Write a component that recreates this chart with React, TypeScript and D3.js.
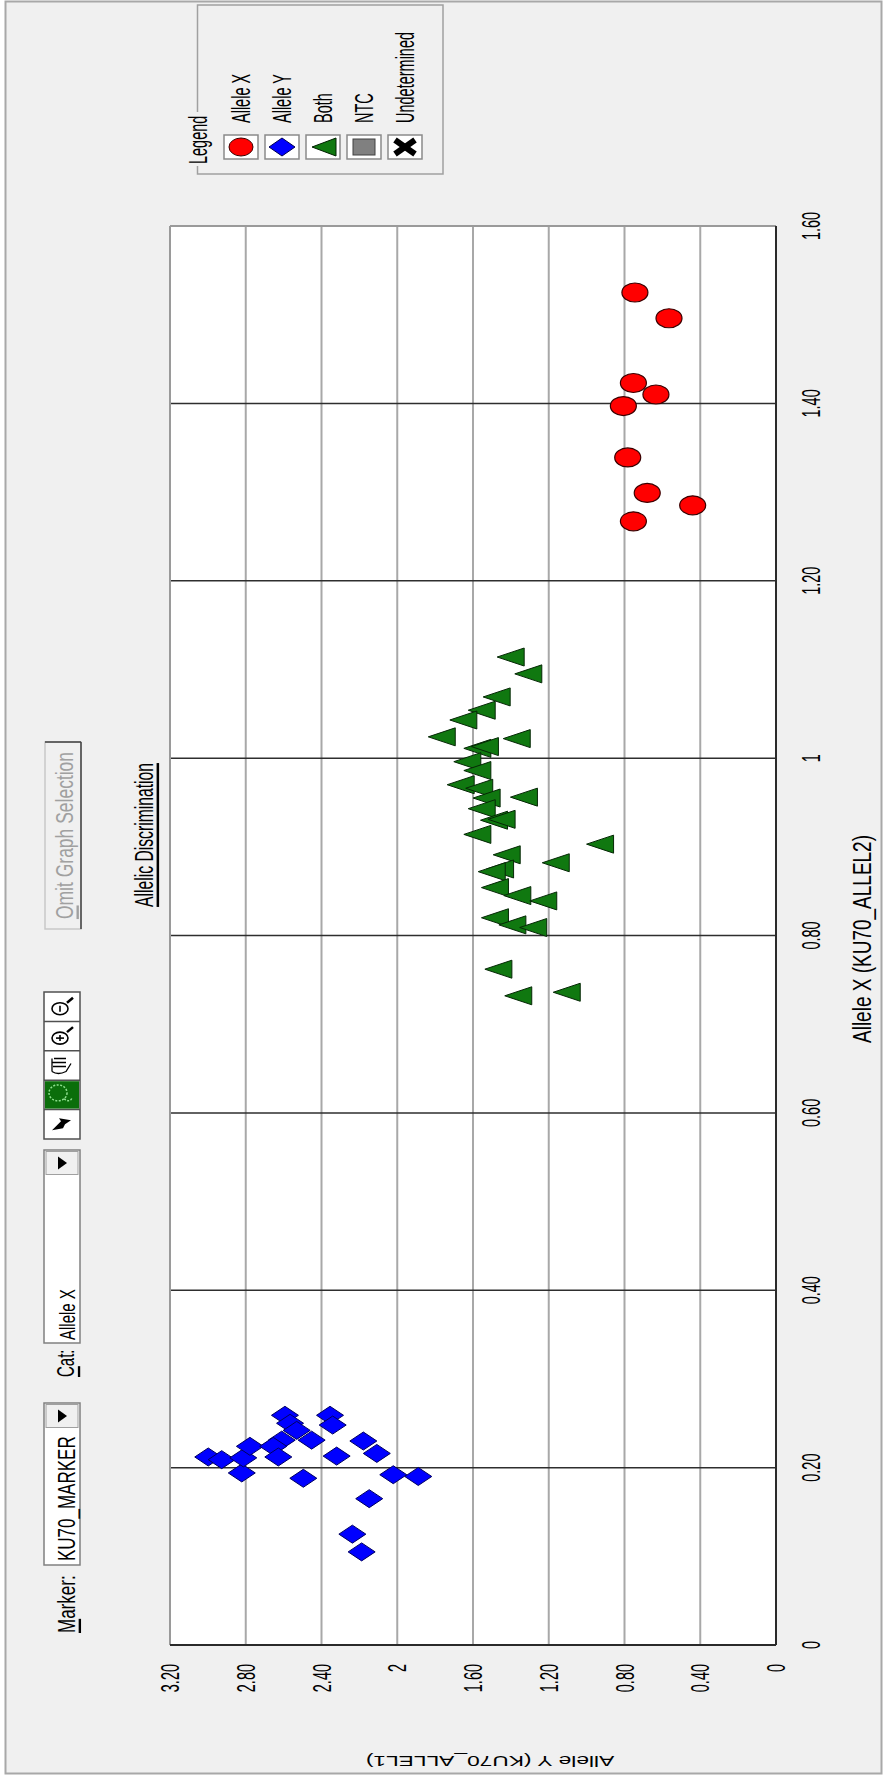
import React from 'react';
import * as d3 from 'd3';

const W = 885;
const H = 1776;

// [Allele X (KU70_ALLEL2), Allele Y (KU70_ALLEL1)]
const alleleXCalls: [number, number][] = [
  [1.525, 0.745], [1.496, 0.565], [1.423, 0.753], [1.41, 0.634], [1.397, 0.806],
  [1.339, 0.783], [1.299, 0.68], [1.285, 0.44], [1.267, 0.753],
];

const alleleYCalls: [number, number][] = [
  [0.212, 2.998], [0.209, 2.927], [0.194, 2.821], [0.211, 2.813], [0.224, 2.778],
  [0.259, 2.593], [0.25, 2.566], [0.242, 2.531], [0.231, 2.61], [0.224, 2.655],
  [0.212, 2.628], [0.231, 2.452], [0.188, 2.496], [0.259, 2.355], [0.248, 2.341],
  [0.213, 2.32], [0.23, 2.179], [0.216, 2.108], [0.192, 2.021], [0.19, 1.889],
  [0.165, 2.148], [0.125, 2.237], [0.105, 2.188],
];

const bothCalls: [number, number][] = [
  [1.114, 1.401], [1.095, 1.308], [1.069, 1.475], [1.054, 1.554], [1.043, 1.651],
  [1.024, 1.765], [1.022, 1.369], [1.011, 1.577], [1.013, 1.537], [0.996, 1.63],
  [0.986, 1.577], [0.97, 1.665], [0.966, 1.567], [0.955, 1.528], [0.956, 1.331],
  [0.943, 1.554], [0.93, 1.489], [0.931, 1.449], [0.914, 1.577], [0.903, 0.929],
  [0.891, 1.422], [0.882, 1.163], [0.875, 1.457], [0.872, 1.501], [0.854, 1.484],
  [0.845, 1.366], [0.839, 1.229], [0.82, 1.484], [0.812, 1.392], [0.809, 1.282],
  [0.762, 1.466], [0.732, 1.361], [0.736, 1.105],
];

const xTicks = [0, 0.2, 0.4, 0.6, 0.8, 1, 1.2, 1.4, 1.6];
const xTickLabels = ['0', '0.20', '0.40', '0.60', '0.80', '1', '1.20', '1.40', '1.60'];
const yTicks = [0, 0.4, 0.8, 1.2, 1.6, 2, 2.4, 2.8, 3.2];
const yTickLabels = ['0', '0.40', '0.80', '1.20', '1.60', '2', '2.40', '2.80', '3.20'];

const legendLabels = ['Allele X', 'Allele Y', 'Both', 'NTC', 'Undetermined'];

const FONT = '"Liberation Sans", Arial, "DejaVu Sans", sans-serif';
const K = 1.75;

// plot frame (screen coords): Allele Y runs along screen x, Allele X along screen y
const PL = 170, PR = 776, PT = 226, PB = 1645;
const xScale = d3.scaleLinear().domain([0, 1.6]).range([PB, PT]);
const yScale = d3.scaleLinear().domain([0, 3.2]).range([PR, PL]);

type VTProps = {
  x: number; y: number; children: React.ReactNode; anchor?: string; size?: number;
  fill?: string; k?: number; deco?: string;
};
function VText({ x, y, children, anchor = 'middle', size = 14.5, fill = '#000', k = K, deco }: VTProps) {
  return (
    <text
      transform={`translate(${x},${y}) rotate(-90) scale(1,${k})`}
      textAnchor={anchor}
      dominantBaseline="central"
      fontSize={size}
      fontFamily={FONT}
      fill={fill}
      style={deco ? { textDecoration: deco } : undefined}
    >
      {children}
    </text>
  );
}

function triPath(cx: number, cy: number, w = 27, h = 18) {
  const p = d3.path();
  p.moveTo(cx - w / 2, cy);
  p.lineTo(cx + w / 2, cy - h / 2);
  p.lineTo(cx + w / 2, cy + h / 2);
  p.closePath();
  return p.toString();
}
function diamondPath(cx: number, cy: number, w = 27, h = 18) {
  const p = d3.path();
  p.moveTo(cx - w / 2, cy);
  p.lineTo(cx, cy - h / 2);
  p.lineTo(cx + w / 2, cy);
  p.lineTo(cx, cy + h / 2);
  p.closePath();
  return p.toString();
}

const RED = '#ff0000';
const BLUE = '#0000ff';
const GREEN = '#107810';

export default function App() {
  // legend geometry
  const lgL = 197.5, lgR = 443, lgT = 5, lgB = 174;
  const rowX = legendLabels.map((_, i) => 241 + i * 41);
  const mkY = 147;

  // toolbar geometry
  const TX0 = 44, TX1 = 80; // toolbar column
  const TC = (TX0 + TX1) / 2;
  const btnY0 = 992;
  const btnH = 29.4;
  const bc = (i: number) => btnY0 + btnH * i + btnH / 2;
  const catY0 = 1150, catY1 = 1343;
  const mkrY0 = 1403, mkrY1 = 1565;

  return (
    <svg width={W} height={H} style={{ position: 'absolute', left: 0, top: 0, display: 'block' }}>
      <rect x={0} y={0} width={W} height={H} fill="#ffffff" />
      <rect x={5.5} y={1.5} width={876} height={1772} fill="#f0f0f0" stroke="#a8a8a8" strokeWidth={2} />

      {/* Legend group box */}
      <g>
        <path
          d={`M${lgL},${lgB} L${lgR},${lgB} L${lgR},${lgT} L${lgL},${lgT} Z`}
          fill="none" stroke="#a0a0a0" strokeWidth={1.5}
        />
        <rect x={lgL - 10} y={112} width={20} height={54} fill="#f0f0f0" />
        <VText x={lgL} y={164} anchor="start">Legend</VText>
        {legendLabels.map((lab, i) => (
          <g key={lab}>
            <rect x={rowX[i] - 17} y={mkY - 12} width={34} height={24} fill="#ffffff" stroke="#8a8a8a" strokeWidth={1.5} />
            <VText x={rowX[i]} y={123} anchor="start">{lab}</VText>
          </g>
        ))}
        <ellipse cx={rowX[0]} cy={mkY} rx={12} ry={9} fill={RED} stroke="#3a0000" strokeWidth={1} />
        <path d={diamondPath(rowX[1], mkY, 26, 18)} fill={BLUE} stroke="#000050" strokeWidth={1} />
        <path d={triPath(rowX[2] + 1, mkY, 24, 18)} fill={GREEN} stroke="#002000" strokeWidth={1} />
        <rect x={rowX[3] - 11} y={mkY - 8} width={22} height={16} fill="#808080" stroke="#404040" strokeWidth={1} />
        <g stroke="#000" strokeWidth={6} strokeLinecap="butt">
          <line x1={rowX[4] - 10} y1={mkY - 7} x2={rowX[4] + 10} y2={mkY + 7} />
          <line x1={rowX[4] - 10} y1={mkY + 7} x2={rowX[4] + 10} y2={mkY - 7} />
        </g>
      </g>

      {/* Toolbar */}
      <g>
        <VText x={TC + 4} y={1633} anchor="start" size={17} k={1.4}>
          <tspan style={{ textDecoration: 'underline' }}>M</tspan>arker:
        </VText>
        <rect x={TX0} y={mkrY0} width={TX1 - TX0} height={mkrY1 - mkrY0} fill="#ffffff" stroke="#808080" strokeWidth={1.5} />
        <rect x={TX0 + 2} y={mkrY0 + 1.5} width={TX1 - TX0 - 4} height={23} fill="#f0f0f0" stroke="#a0a0a0" strokeWidth={1} />
        <path d={`M${TC - 4},${mkrY0 + 6.5} L${TC + 5},${mkrY0 + 13} L${TC - 4},${mkrY0 + 19.5} Z`} fill="#000" />
        <VText x={TC + 4} y={mkrY1 - 4} anchor="start" size={17} k={1.4}>KU70_MARKER</VText>

        <VText x={TC + 4} y={1377} anchor="start" size={15} k={1.55}>
          <tspan style={{ textDecoration: 'underline' }}>C</tspan>at:
        </VText>
        <rect x={TX0} y={catY0} width={TX1 - TX0} height={catY1 - catY0} fill="#ffffff" stroke="#808080" strokeWidth={1.5} />
        <rect x={TX0 + 2} y={catY0 + 1.5} width={TX1 - TX0 - 4} height={23} fill="#f0f0f0" stroke="#a0a0a0" strokeWidth={1} />
        <path d={`M${TC - 4},${catY0 + 6.5} L${TC + 5},${catY0 + 13} L${TC - 4},${catY0 + 19.5} Z`} fill="#000" />
        <VText x={TC + 5} y={catY1 - 3} anchor="start" size={15} k={1.45}>Allele X</VText>

        {/* tool buttons */}
        <rect x={TX0} y={btnY0} width={TX1 - TX0} height={btnH * 5} fill="#ffffff" stroke="#505050" strokeWidth={1.5} />
        {[1, 2, 3, 4].map((i) => (
          <line key={i} x1={TX0} x2={TX1} y1={btnY0 + btnH * i} y2={btnY0 + btnH * i} stroke="#505050" strokeWidth={1.5} />
        ))}
        {/* zoom out */}
        <g fill="none" stroke="#000" strokeWidth={1.6}>
          <ellipse cx={TC - 2} cy={bc(0) + 2} rx={8} ry={6} />
          <line x1={TC - 2} y1={bc(0) - 1} x2={TC - 2} y2={bc(0) + 5} />
          <line x1={TC + 5} y1={bc(0) - 4} x2={TC + 11} y2={bc(0) - 9} strokeWidth={2.5} />
        </g>
        {/* zoom in */}
        <g fill="none" stroke="#000" strokeWidth={1.6}>
          <ellipse cx={TC - 2} cy={bc(1) + 2} rx={8} ry={6} />
          <line x1={TC - 2} y1={bc(1) - 1} x2={TC - 2} y2={bc(1) + 5} />
          <line x1={TC - 6} y1={bc(1) + 2} x2={TC + 2} y2={bc(1) + 2} />
          <line x1={TC + 5} y1={bc(1) - 4} x2={TC + 11} y2={bc(1) - 9} strokeWidth={2.5} />
        </g>
        {/* hand */}
        <g fill="none" stroke="#000" strokeWidth={1.3}>
          <path d={`M${TC - 10},${bc(2) + 6} Q${TC - 4},${bc(2) + 10} ${TC + 4},${bc(2) + 6} L${TC + 9},${bc(2) - 2} M${TC - 8},${bc(2) - 7} L${TC + 4},${bc(2) - 7} M${TC - 10},${bc(2) - 3} L${TC + 4},${bc(2) - 3} M${TC - 9},${bc(2) + 1} L${TC + 4},${bc(2) + 1} M${TC - 10},${bc(2) + 6} L${TC - 10},${bc(2) - 7}`} />
        </g>
        {/* lasso */}
        <rect x={TX0 + 1} y={btnY0 + btnH * 3 + 1} width={TX1 - TX0 - 2} height={btnH - 2} fill="#0b6e0b" />
        <g fill="none" stroke="#8fe08f" strokeWidth={1.5} strokeDasharray="2,1.5">
          <ellipse cx={TC - 4} cy={bc(3) - 2} rx={9} ry={8} />
          <path d={`M${TC + 2},${bc(3) + 4} Q${TC + 8},${bc(3) + 8} ${TC + 10},${bc(3) + 3}`} />
        </g>
        {/* arrow */}
        <path
          d={`M${TC - 10},${bc(4) + 6} L${TC - 1},${bc(4) - 3} L${TC - 3},${bc(4) - 6} L${TC + 9},${bc(4) - 4} L${TC + 3},${bc(4)} L${TC + 1},${bc(4) + 4} Z`}
          fill="#000"
        />

        {/* Omit Graph Selection button */}
        <rect x={TX0 + 1} y={742} width={TX1 - TX0} height={187} fill="#f0f0f0" stroke="#c8c8c8" strokeWidth={1.5} />
        <line x1={TX1 + 1} y1={742} x2={TX1 + 1} y2={929} stroke="#404040" strokeWidth={1.5} />
        <line x1={TX0 + 1} y1={742} x2={TX1 + 1} y2={742} stroke="#404040" strokeWidth={1.5} />
        <VText x={TC + 2} y={835.5} anchor="middle" size={17.5} k={1.35} fill="#a0a0a0">
          <tspan style={{ textDecoration: 'underline' }}>O</tspan>mit Graph Selection
        </VText>
      </g>

      {/* Title */}
      <VText x={144} y={835} anchor="middle" size={15.7} k={1.6} deco="underline">Allelic Discrimination</VText>

      {/* Plot */}
      <rect x={PL} y={PT} width={PR - PL} height={PB - PT} fill="#ffffff" />
      {yTicks.slice(1, -1).map((t) => (
        <line key={`gy${t}`} x1={yScale(t)} x2={yScale(t)} y1={PT} y2={PB} stroke="#a8a8a8" strokeWidth={2} />
      ))}
      {xTicks.slice(1, -1).map((t) => (
        <line key={`gx${t}`} x1={PL} x2={PR} y1={xScale(t)} y2={xScale(t)} stroke="#2e2e2e" strokeWidth={1.5} />
      ))}
      <line x1={PL} x2={PR} y1={PT} y2={PT} stroke="#9a9a9a" strokeWidth={2} />
      <line x1={PL} x2={PL} y1={PT} y2={PB} stroke="#9a9a9a" strokeWidth={2} />
      <line x1={PR} x2={PR} y1={PT} y2={PB} stroke="#2a2a2a" strokeWidth={2} />
      <line x1={PL} x2={PR} y1={PB} y2={PB} stroke="#2a2a2a" strokeWidth={2} />

      {/* Points */}
      <g>
        {alleleYCalls.map(([ax, ay], i) => (
          <path key={`b${i}`} d={diamondPath(yScale(ay), xScale(ax))} fill={BLUE} stroke="#000060" strokeWidth={1} />
        ))}
        {bothCalls.map(([ax, ay], i) => (
          <path key={`g${i}`} d={triPath(yScale(ay), xScale(ax))} fill={GREEN} stroke="#062806" strokeWidth={1} />
        ))}
        {alleleXCalls.map(([ax, ay], i) => (
          <ellipse key={`r${i}`} cx={yScale(ay)} cy={xScale(ax)} rx={13} ry={9.5} fill={RED} stroke="#3a0000" strokeWidth={1.2} />
        ))}
      </g>

      {/* Tick labels */}
      {xTicks.map((t, i) => (
        <VText key={`xl${t}`} x={811} y={xScale(t)} anchor="middle">{xTickLabels[i]}</VText>
      ))}
      {yTicks.map((t, i) => (
        <VText key={`yl${t}`} x={yScale(t)} y={1664} anchor="end">{yTickLabels[i]}</VText>
      ))}

      {/* Axis titles */}
      <VText x={862} y={939} anchor="middle" size={19} k={1.35}>Allele X (KU70_ALLEL2)</VText>
      <text
        transform={`translate(${490},1761) rotate(180) scale(1.57,1)`}
        textAnchor="middle"
        dominantBaseline="central"
        fontSize={14.5}
        fontFamily={FONT}
        fill="#000"
      >
        Allele Y (KU70_ALLEL1)
      </text>
    </svg>
  );
}
